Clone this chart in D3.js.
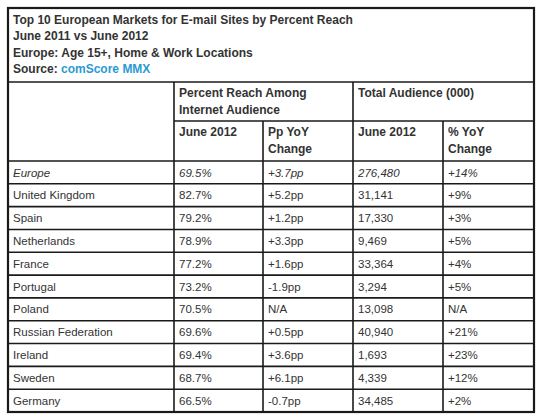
<!DOCTYPE html>
<html>
<head>
<meta charset="utf-8">
<script src="https://cdn.jsdelivr.net/npm/d3@7"></script>
<style>
  html, body { margin: 0; padding: 0; background: #fff; }
  svg { display: block; }
  text { font-family: Arial, "Liberation Sans", sans-serif; }
</style>
</head>
<body>
<div id="chart"></div>
<script>
// ---- Data ----
const titleLines = [
  "Top 10 European Markets for E-mail Sites by Percent Reach",
  "June 2011 vs June 2012",
  "Europe: Age 15+, Home & Work Locations"
];
const sourceLabel = "Source: ";
const sourceName = "comScore MMX";
const groupHeaders = [["Percent Reach Among", "Internet Audience"], ["Total Audience (000)"]];
const subHeaders = [["June 2012"], ["Pp YoY", "Change"], ["June 2012"], ["% YoY", "Change"]];
const countries = ["Europe", "United Kingdom", "Spain", "Netherlands", "France", "Portugal",
  "Poland", "Russian Federation", "Ireland", "Sweden", "Germany"];
const reach2012 = [69.5, 82.7, 79.2, 78.9, 77.2, 73.2, 70.5, 69.6, 69.4, 68.7, 66.5];
const reachChangePp = [3.7, 5.2, 1.2, 3.3, 1.6, -1.9, null, 0.5, 3.6, 6.1, -0.7];
const audience2012 = [276480, 31141, 17330, 9469, 33364, 3294, 13098, 40940, 1693, 4339, 34485];
const audienceChangePct = [14, 9, 3, 5, 4, 5, null, 21, 23, 12, 2];

// ---- Layout ----
const W = 543, H = 419;
const tLeft = 8, tRight = 534, tTop = 8, tBottom = 412;
const titleBottom = 82, groupBottom = 121, headBottom = 161;
const colEdges = [tLeft, 174, 263, 353, 443, tRight];
const pad = 5;
const textColor = "#333";
const lineColor = "#1a1a1a";

const svg = d3.select("#chart").append("svg")
  .attr("width", W).attr("height", H);

const y = d3.scaleBand().domain(countries).range([headBottom, tBottom]).padding(0);
const col = d3.scaleOrdinal().domain([0, 1, 2, 3, 4]).range(colEdges.slice(0, 5));

// ---- Title ----
const tg = svg.append("g").attr("font-weight", "bold").attr("font-size", 12).attr("fill", textColor);
titleLines.forEach((t, i) => {
  tg.append("text").attr("x", tLeft + pad).attr("y", 24 + i * 16.4).text(t);
});
const src = tg.append("text").attr("x", tLeft + pad).attr("y", 24 + 3 * 16.4);
src.append("tspan").text(sourceLabel);
src.append("tspan").attr("fill", "#2b9ad4").text(sourceName);

// ---- Header text ----
const hg = svg.append("g").attr("font-weight", "bold").attr("font-size", 12).attr("fill", textColor);
groupHeaders.forEach((lines, gi) => {
  lines.forEach((l, li) => {
    hg.append("text").attr("x", col(1 + gi * 2) + pad).attr("y", 97 + li * 17).text(l);
  });
});
subHeaders.forEach((lines, si) => {
  lines.forEach((l, li) => {
    hg.append("text").attr("x", col(1 + si) + pad).attr("y", 136 + li * 17).text(l);
  });
});

// ---- Body ----
const f1 = d3.format(".1f");
const sign = v => v > 0 ? "+" : (v < 0 ? "-" : "+");
const fmtPct = v => f1(v) + "%";
const fmtPp = v => v == null ? "N/A" : sign(v) + f1(Math.abs(v)) + "pp";
const fmtNum = d3.format(",");
const fmtChg = v => v == null ? "N/A" : sign(v) + Math.abs(v) + "%";

const rows = countries.map((c, i) => [c, fmtPct(reach2012[i]), fmtPp(reachChangePp[i]),
  fmtNum(audience2012[i]), fmtChg(audienceChangePct[i])]);

const bg = svg.append("g").attr("font-size", 11.5).attr("fill", textColor);
const rowG = bg.selectAll("g.row").data(rows).join("g")
  .attr("class", "row")
  .attr("transform", (d, i) => `translate(0,${y(countries[i]) + y.bandwidth() / 2})`)
  .attr("font-style", (d, i) => i === 0 ? "italic" : null);
rowG.selectAll("text").data(d => d).join("text")
  .attr("x", (d, j) => col(j) + pad)
  .attr("dy", "0.36em")
  .text(d => d);

// ---- Grid lines ----
const lg = svg.append("g").attr("stroke", lineColor).attr("fill", "none");
lg.append("line").attr("x1", tLeft).attr("x2", tRight).attr("y1", titleBottom).attr("y2", titleBottom).attr("stroke-width", 1.6);
lg.append("line").attr("x1", colEdges[1]).attr("x2", tRight).attr("y1", groupBottom).attr("y2", groupBottom).attr("stroke-width", 1.6);
lg.selectAll("line.rowline").data(countries).join("line")
  .attr("class", "rowline")
  .attr("x1", tLeft).attr("x2", tRight)
  .attr("y1", d => y(d)).attr("y2", d => y(d))
  .attr("stroke-width", 1.6);
[[1, titleBottom], [2, groupBottom], [3, titleBottom], [4, groupBottom]].forEach(([k, y0]) => {
  lg.append("line").attr("x1", colEdges[k]).attr("x2", colEdges[k])
    .attr("y1", y0).attr("y2", tBottom).attr("stroke-width", 1.6);
});
lg.append("rect").attr("x", tLeft).attr("y", tTop)
  .attr("width", tRight - tLeft).attr("height", tBottom - tTop).attr("stroke-width", 2.2);
</script>
</body>
</html>
